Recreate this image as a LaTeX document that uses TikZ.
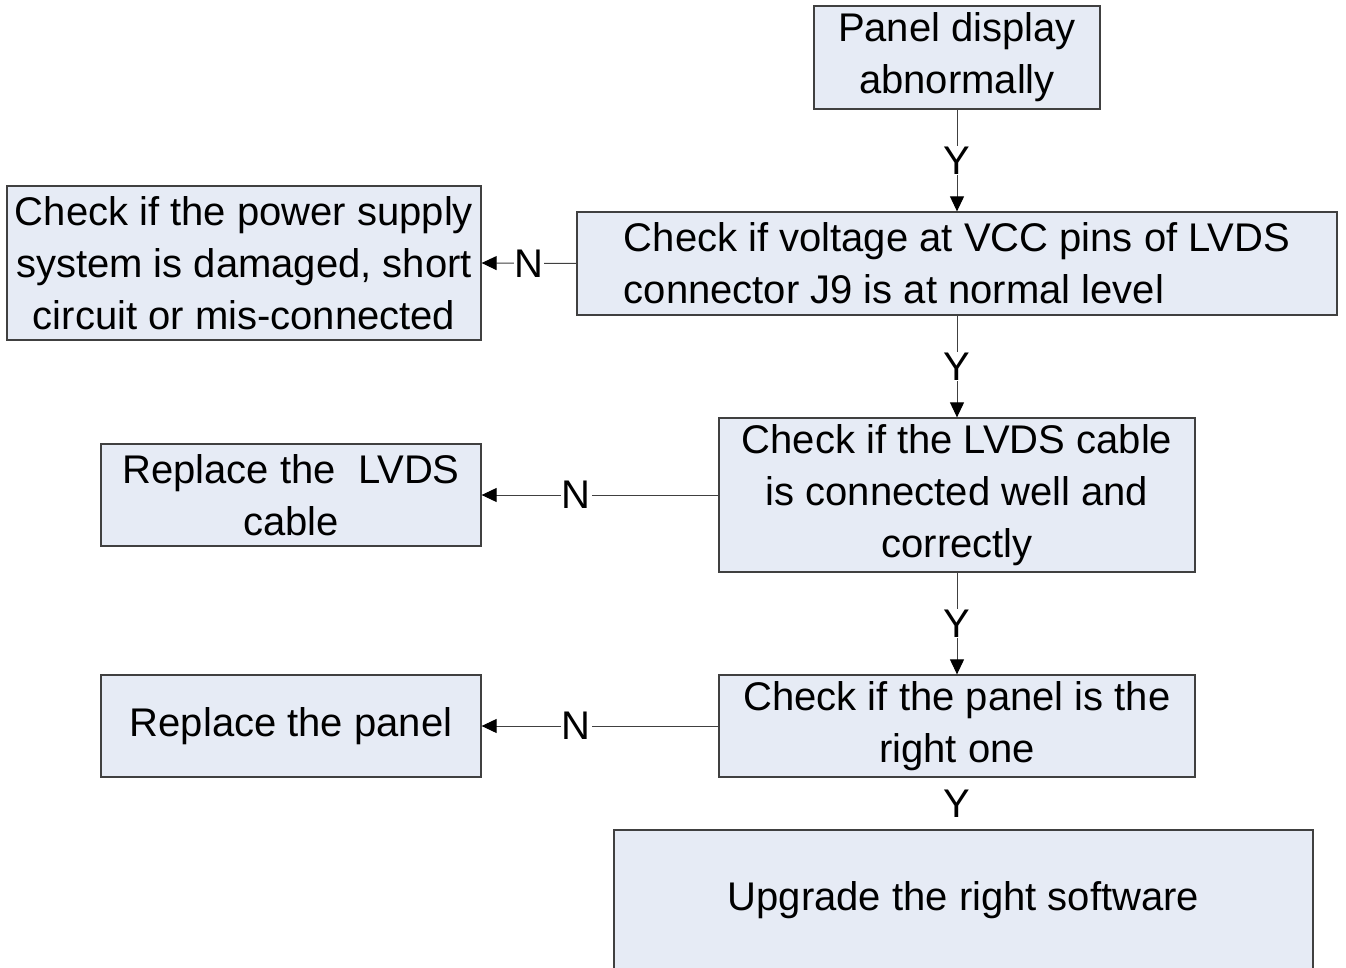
\documentclass[tikz,border=0pt]{standalone}
\usepackage{fontspec}
\setmainfont{Liberation Sans}
\usetikzlibrary{arrows.meta}
\definecolor{boxfill}{HTML}{E6EBF5}
\definecolor{edgecol}{HTML}{404040}
\tikzset{
  box/.style={draw=edgecol, line width=1.3pt, fill=boxfill, inner sep=0pt,
    font=\fontsize{40}{52}\selectfont, align=center},
  lbl/.style={fill=white, inner sep=1pt, font=\fontsize{40}{52}\selectfont},
  conn/.style={draw=edgecol, line width=1pt, -{Triangle[length=15pt,width=14pt,color=black]}},
}
\begin{document}
\begin{tikzpicture}[x=1pt,y=-1pt]
\clip (0,0) rectangle (1346,968);
\fill[white] (0,0) rectangle (1346,968);
\node[box, minimum width=286pt, minimum height=103pt] (start) at (957,57.5) {Panel display\\abnormally};
\node[box, minimum width=760pt, minimum height=103pt, align=left] (vcc) at (957,263.5) {Check if voltage at VCC pins of LVDS\\ connector J9 is at normal level};
\node[box, minimum width=474pt, minimum height=154pt] (pwr) at (244,263) {Check if the power supply\\system is damaged, short\\circuit or mis-connected};
\node[box, minimum width=476pt, minimum height=154pt] (lvds) at (957,495) {Check if the LVDS cable\\is connected well and\\correctly};
\node[box, minimum width=380pt, minimum height=102pt] (rcable) at (291,495) {Replace the\ \ LVDS\\cable};
\node[box, minimum width=476pt, minimum height=102pt] (panel) at (957,726) {Check if the panel is the\\right one};
\node[box, minimum width=380pt, minimum height=102pt] (rpanel) at (291,726) {Replace the panel};
\node[box, minimum width=699pt, minimum height=170pt] (upg) at (963.5,915) {};
\node[font=\fontsize{40}{52}\selectfont] (upgtxt) at (963.5,900) {Upgrade the right software};
\draw[conn] (start) -- node[lbl]{Y} (vcc);
\draw[conn] (vcc) -- node[lbl]{Y} (lvds);
\draw[conn] (lvds) -- node[lbl]{Y} (panel);
\draw[conn] (vcc.west) -- node[lbl]{N} (pwr.east);
\draw[conn] (lvds.west) -- node[lbl, pos=0.6]{N} (rcable.east);
\draw[conn] (panel.west) -- node[lbl, pos=0.6]{N} (rpanel.east);
\path (panel.south) -- node[lbl]{Y} (upg.north -| panel.south);
\end{tikzpicture}
\end{document}
